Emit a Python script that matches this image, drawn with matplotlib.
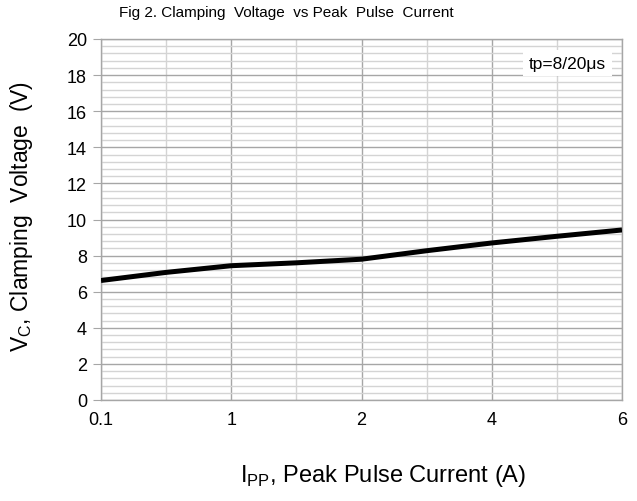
import numpy as np
import matplotlib.pyplot as plt
from matplotlib.ticker import MultipleLocator

plt.rcParams['font.family'] = ['Liberation Sans', 'DejaVu Sans']

# peak pulse current (A) and clamping voltage (V)
current = [0.1, 0.5, 1, 1.5, 2, 3, 4, 5, 6]
voltage = [6.62, 7.07, 7.44, 7.6, 7.8, 8.27, 8.7, 9.07, 9.42]
tick_labels = ['0.1', '1', '2', '4', '6']

# the x axis is evenly spaced by category
pos = np.arange(len(current))

fig = plt.figure(figsize=(6.37, 5.02), dpi=100)
ax = fig.add_axes([101/637, 1 - 401/502, 521/637, 361/502])

ax.plot(pos, voltage, '-', color='black', lw=3.6, solid_capstyle='butt', zorder=3)

ax.set_xlim(0, len(current) - 1)
ax.set_ylim(0, 20)
ax.set_xticks(pos[::2])
ax.set_xticklabels(tick_labels)
ax.set_xticks(pos[1::2], minor=True)
ax.yaxis.set_major_locator(MultipleLocator(2))
ax.yaxis.set_minor_locator(MultipleLocator(0.4))

ax.grid(True, which='major', color='#a6a6a6', lw=1.0)
ax.grid(True, which='minor', color='#d4d4d4', lw=1.0)
ax.set_axisbelow(True)

for s in ax.spines.values():
    s.set_color('#a6a6a6')
    s.set_linewidth(1.0)

ax.tick_params(axis='y', which='major', length=6, color='#a6a6a6', labelsize=13, pad=4)
ax.tick_params(axis='y', which='minor', length=0)
ax.tick_params(axis='x', which='both', length=0, labelsize=13, pad=8)

fig.text(22/637, 1 - 216/502, 'V$_\\mathregular{C}$, Clamping  Voltage  (V)', rotation=90,
         ha='center', va='center', fontsize=16.5)
fig.text(383/637, 1 - 476/502, 'I$_\\mathregular{PP}$, Peak Pulse Current (A)',
         ha='center', va='center', fontsize=17)
fig.text(286/637, 1 - 13/502, 'Fig 2. Clamping  Voltage  vs Peak  Pulse  Current',
         ha='center', va='center', fontsize=11)

ax.text(606/637, 1 - 64/502, 'tp=8/20\u03bcs', transform=fig.transFigure, ha='right', va='center',
        fontsize=12.5, bbox=dict(facecolor='white', edgecolor='none', pad=4))

fig.savefig('out.png', dpi=100)
